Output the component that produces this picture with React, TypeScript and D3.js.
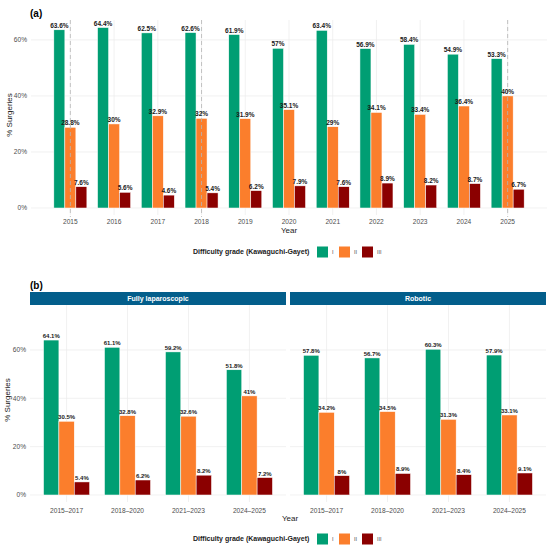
import React from "react";
import * as d3 from "d3";

const years = ["2015","2016","2017","2018","2019","2020","2021","2022","2023","2024","2025"];
const gradeI_a = [63.6, 64.4, 62.5, 62.6, 61.9, 57, 63.4, 56.9, 58.4, 54.9, 53.3];
const gradeII_a = [28.8, 30, 32.9, 32, 31.9, 35.1, 29, 34.1, 33.4, 36.4, 40];
const gradeIII_a = [7.6, 5.6, 4.6, 5.4, 6.2, 7.9, 7.6, 8.9, 8.2, 8.7, 6.7];
const dashedYears = ["2015", "2018", "2025"];

const periods = ["2015–2017", "2018–2020", "2021–2023", "2024–2025"];
const facets = ["Fully laparoscopic", "Robotic"];
const lapI = [64.1, 61.1, 59.2, 51.8];
const lapII = [30.5, 32.8, 32.6, 41];
const lapIII = [5.4, 6.2, 8.2, 7.2];
const robI = [57.8, 56.7, 60.3, 57.9];
const robII = [34.2, 34.5, 31.3, 33.1];
const robIII = [8, 8.9, 8.4, 9.1];

const grades = ["I", "II", "III"];
const gradeColors = ["#009E73", "#FB7E2C", "#8B0000"];
const yTicks = [0, 20, 40, 60];
const legendTitle = "Difficulty grade (Kawaguchi-Gayet)";

const FONT = "'Liberation Sans', Arial, Helvetica, sans-serif";
const GRID = "#EBEBEB";
const AXIS_TEXT = "#4D4D4D";

type PanelProps = {
  cats: string[];
  series: number[][];
  x0: number;
  x1: number;
  yTop: number;
  yBottom: number;
  yDomain: [number, number];
  padding: number;
  labelSize: number;
  showYAxis: boolean;
  dashed?: string[];
  tickY: number;
};

function Panel(p: PanelProps) {
  const x = d3.scalePoint<string>().domain(p.cats).range([p.x0, p.x1]).padding(p.padding);
  const y = d3.scaleLinear().domain(p.yDomain).range([p.yBottom, p.yTop]);
  const step = x.step();
  const groupW = step * 0.755;
  const inner = d3.scaleBand<number>().domain([0, 1, 2]).range([-groupW / 2, groupW / 2]).padding(0);
  return (
    <g>
      {yTicks.map((t) => (
        <line key={"h" + t} x1={p.x0} x2={p.x1} y1={y(t)} y2={y(t)} stroke={GRID} strokeWidth={0.7} />
      ))}
      {p.cats.map((c) => (
        <line key={"v" + c} x1={x(c)} x2={x(c)} y1={p.yTop} y2={p.yBottom} stroke={GRID} strokeWidth={0.7} />
      ))}
      {p.series.map((vals, si) =>
        vals.map((v, i) => {
          const cx = (x(p.cats[i]) as number) + (inner(si) as number);
          return (
            <rect
              key={`b${si}-${i}`}
              x={cx}
              y={y(v)}
              width={inner.bandwidth()}
              height={y(0) - y(v)}
              fill={gradeColors[si]}
              stroke="#FFFFFF"
              strokeWidth={0.5}
            />
          );
        })
      )}
      {(p.dashed || []).map((c) => (
        <line
          key={"d" + c}
          x1={x(c)}
          x2={x(c)}
          y1={p.yTop}
          y2={p.yBottom + 2}
          stroke="#B5B5B5"
          strokeWidth={0.8}
          strokeDasharray="4,3"
        />
      ))}
      {p.series.map((vals, si) =>
        vals.map((v, i) => {
          const cx = (x(p.cats[i]) as number) + (inner(si) as number) + inner.bandwidth() / 2;
          return (
            <text
              key={`l${si}-${i}`}
              x={cx}
              y={y(v) - 2}
              textAnchor="middle"
              fontSize={p.labelSize}
              fontWeight="bold"
              fill="#1A1A1A"
            >
              {v + "%"}
            </text>
          );
        })
      )}
      {p.cats.map((c) => (
        <text key={"t" + c} x={x(c)} y={p.tickY} textAnchor="middle" fontSize={6.6} fill={AXIS_TEXT}>
          {c}
        </text>
      ))}
      {p.showYAxis &&
        yTicks.map((t) => (
          <text
            key={"yt" + t}
            x={p.x0 - 4}
            y={y(t)}
            dy="0.35em"
            textAnchor="end"
            fontSize={6.6}
            fill={AXIS_TEXT}
          >
            {t + "%"}
          </text>
        ))}
    </g>
  );
}

function Legend({ y }: { y: number }) {
  const keyX = [317, 339, 362];
  return (
    <g>
      <text x={193} y={y} dy="0.35em" fontSize={7} fontWeight="bold" fill="#1A1A1A">
        {legendTitle}
      </text>
      {grades.map((g, i) => (
        <g key={g}>
          <rect x={keyX[i]} y={y - 5.5} width={11} height={11} fill={gradeColors[i]} />
          <text x={keyX[i] + 15} y={y} dy="0.35em" fontSize={5.6} fill={AXIS_TEXT}>
            {g}
          </text>
        </g>
      ))}
    </g>
  );
}

export default function App() {
  const W = 550;
  const H = 549;
  return (
    <svg
      width={W}
      height={H}
      viewBox={`0 0 ${W} ${H}`}
      style={{ position: "absolute", left: 0, top: 0, background: "#FFFFFF" }}
      fontFamily={FONT}
    >
      <rect x={0} y={0} width={W} height={H} fill="#FFFFFF" />
      {/* Panel (a) */}
      <text x={30} y={17} fontSize={10} fontWeight="bold" fill="#000">(a)</text>
      <Panel
        cats={years}
        series={[gradeI_a, gradeII_a, gradeIII_a]}
        x0={31}
        x1={547}
        yTop={20}
        yBottom={215}
        yDomain={[-2.5, 67.1]}
        padding={0.9}
        labelSize={6.5}
        showYAxis={true}
        dashed={dashedYears}
        tickY={224}
      />
      <text
        transform={`translate(12,115) rotate(-90)`}
        textAnchor="middle"
        fontSize={8}
        fill="#1A1A1A"
      >
        % Surgeries
      </text>
      <text x={289} y={233} textAnchor="middle" fontSize={8} fill="#1A1A1A">Year</text>
      <Legend y={252} />

      {/* Panel (b) */}
      <text x={30} y={289} fontSize={10} fontWeight="bold" fill="#000">(b)</text>
      {facets.map((f, fi) => {
        const x0 = fi === 0 ? 30 : 290;
        const x1 = fi === 0 ? 286 : 546;
        const s =
          fi === 0 ? [lapI, lapII, lapIII] : [robI, robII, robIII];
        return (
          <g key={f}>
            <rect x={x0} y={292} width={x1 - x0} height={13} fill="#035E8B" />
            <text
              x={(x0 + x1) / 2}
              y={298.5}
              dy="0.35em"
              textAnchor="middle"
              fontSize={7}
              fontWeight="bold"
              fill="#FFFFFF"
            >
              {f}
            </text>
            <Panel
              cats={periods}
              series={s}
              x0={x0}
              x1={x1}
              yTop={305}
              yBottom={502}
              yDomain={[-2.9, 78.6]}
              padding={0.6}
              labelSize={6}
              showYAxis={fi === 0}
              tickY={513}
            />
          </g>
        );
      })}
      <text
        transform={`translate(10,400) rotate(-90)`}
        textAnchor="middle"
        fontSize={8}
        fill="#1A1A1A"
      >
        % Surgeries
      </text>
      <text x={290} y={521} textAnchor="middle" fontSize={8} fill="#1A1A1A">Year</text>
      <Legend y={539} />
    </svg>
  );
}
